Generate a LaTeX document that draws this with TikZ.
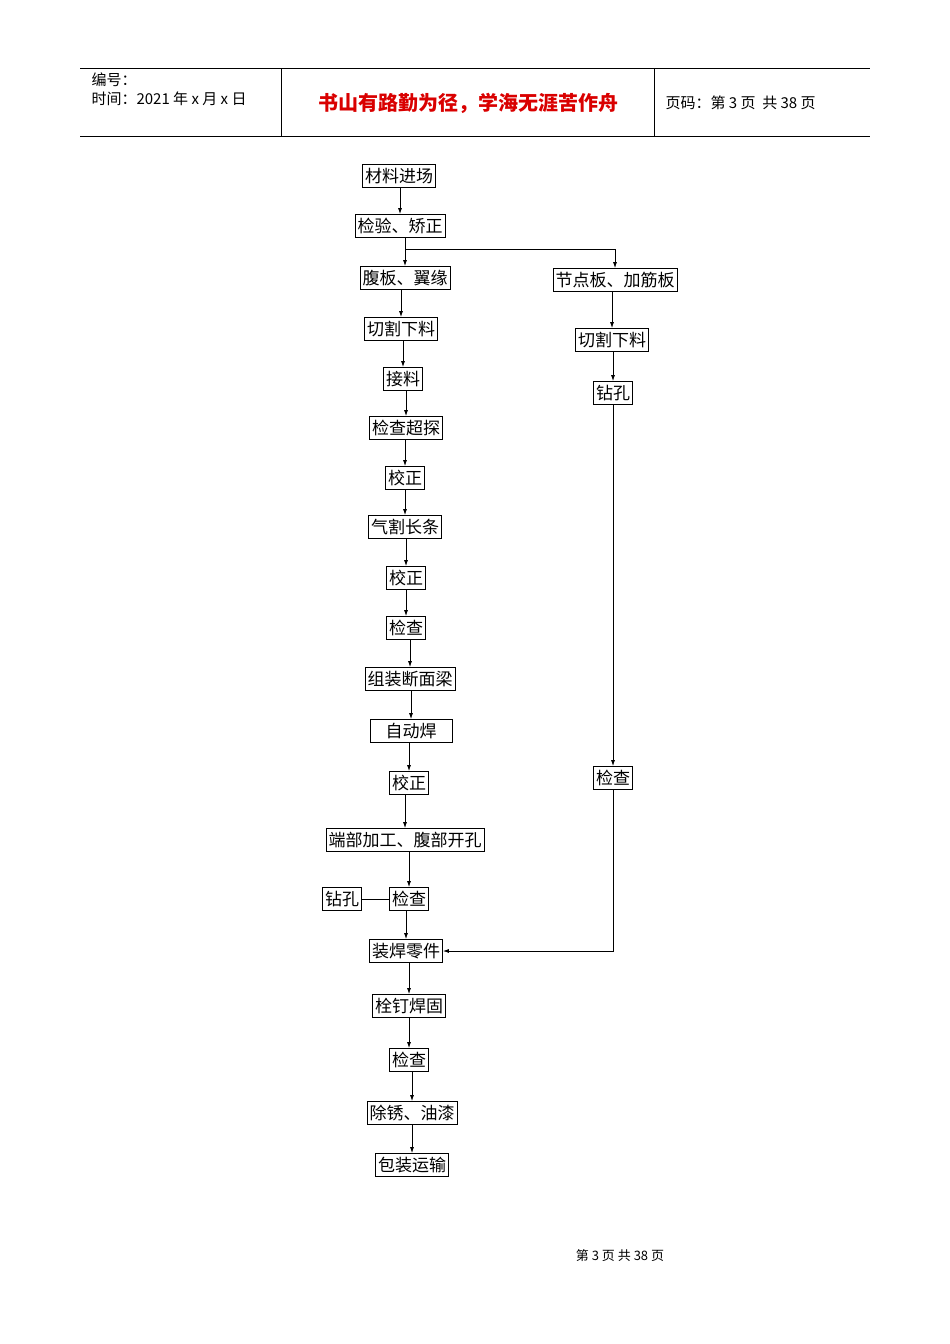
\documentclass[tikz,border=0pt]{standalone}
\usepackage{fontspec}
\setmainfont{Liberation Sans}
\newfontfamily\cjk{Noto Sans CJK SC}
\usetikzlibrary{arrows.meta}
\begin{document}
\begin{tikzpicture}[x=1pt,y=-1pt,
  bx/.style={draw,line width=0.8pt,font=\cjk\fontsize{17}{17}\selectfont,inner xsep=2.5pt,inner ysep=0pt,minimum height=23pt},
  ar/.style={-{Latex[length=6pt,width=4pt]},line width=0.8pt},
  ln/.style={line width=0.8pt}]
\useasboundingbox (0,0) rectangle (950,1344);
% header
\draw[line width=0.6pt] (80,68) -- (870,68) (80,136) -- (870,136) (281,68) -- (281,136) (654,68) -- (654,136);
\node[anchor=west,font=\cjk\fontsize{15}{15}\selectfont] (h1) at (88,80) {编号：};
\node[anchor=west,font=\cjk\fontsize{15}{15}\selectfont] (h2) at (88,99) {时间：2021 年 x 月 x 日};
\node[font=\cjk\bfseries\fontsize{20}{20}\selectfont,text=red!85!black] (h3) at (468,103) {书山有路勤为径，学海无涯苦作舟};
\node[anchor=west,font=\cjk\fontsize{15}{15}\selectfont] (h4) at (662,103) {页码：第 3 页\ \ 共 38 页};
\node[font=\cjk\fontsize{13}{13}\selectfont] (ft) at (620,1256) {第\ 3\ 页\ 共\ 38\ 页};
% left column
\node[bx] (a1) at (399,176) {材料进场};
\node[bx] (a2) at (400,226) {检验、矫正};
\node[bx] (a3) at (405,278) {腹板、翼缘};
\node[bx] (a4) at (401,329) {切割下料};
\node[bx] (a5) at (403,379) {接料};
\node[bx] (a6) at (406,428) {检查超探};
\node[bx] (a7) at (405,478) {校正};
\node[bx] (a8) at (405,527) {气割长条};
\node[bx] (a9) at (406,578) {校正};
\node[bx] (a10) at (406,628) {检查};
\node[bx] (a11) at (410,679) {组装断面梁};
\node[bx,minimum width=82pt] (a12) at (411,731) {自动焊};
\node[bx] (a13) at (409,783) {校正};
\node[bx] (a14) at (405,840) {端部加工、腹部开孔};
\node[bx] (a15) at (409,899) {检查};
\node[bx] (a16) at (406,951) {装焊零件};
\node[bx] (a17) at (409,1006) {栓钉焊固};
\node[bx] (a18) at (409,1060) {检查};
\node[bx] (a19) at (412,1113) {除锈、油漆};
\node[bx] (a20) at (412,1165) {包装运输};
\node[bx] (z) at (342,899) {钻孔};
% right column
\node[bx] (b1) at (615,280) {节点板、加筋板};
\node[bx] (b2) at (612,340) {切割下料};
\node[bx] (b3) at (613,393) {钻孔};
\node[bx] (b4) at (613,778) {检查};
\foreach \i [evaluate=\i as \j using int(\i+1)] in {1,...,19}
  \draw[ar] (a\i.south -| a\j.north) -- (a\j.north);
\coordinate (br) at (615,249);
\draw[ar] (a2.south -| a3.north) ++(0,0) |- (br) -- (b1.north);
\draw[ar] (b1.south -| b2.north) -- (b2.north);
\draw[ar] (b2.south -| b3.north) -- (b3.north);
\draw[ar] (b3.south -| b4.north) -- (b4.north);
\draw[ar] (b4.south) |- (a16.east);
\draw[ln] (z.east) -- (a15.west);
\end{tikzpicture}
\end{document}
